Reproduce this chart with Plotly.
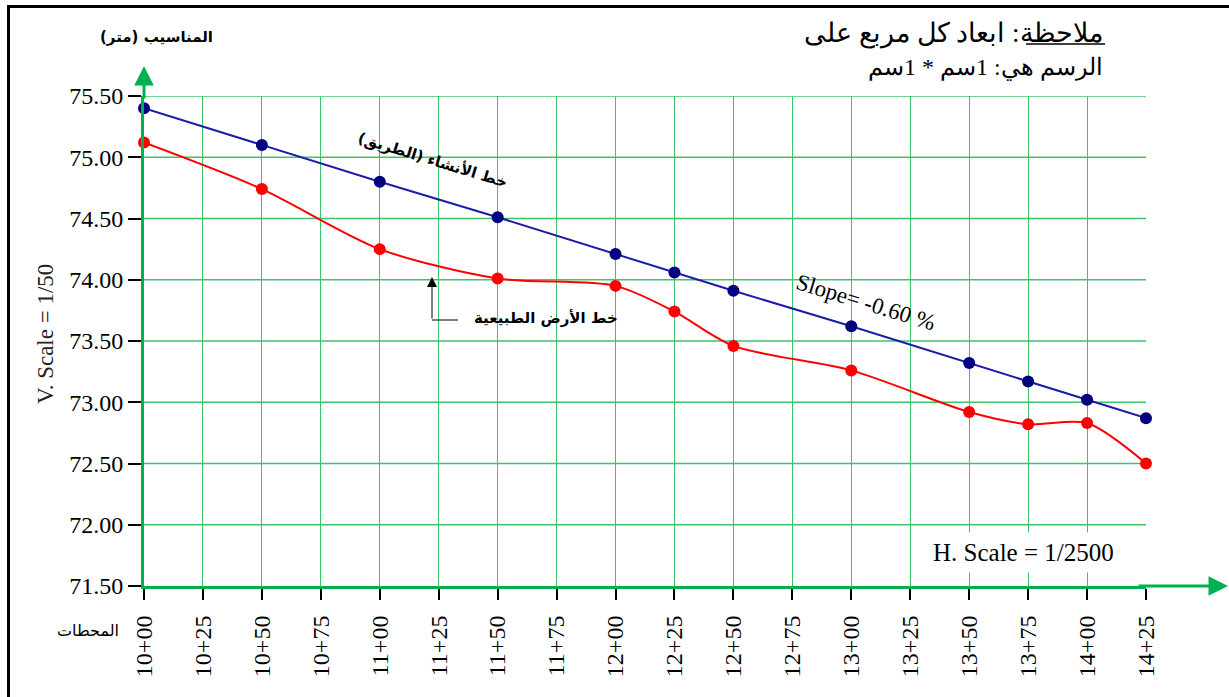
import plotly.graph_objects as go

# ---- data -------------------------------------------------------------
# stations along the road (chainage "hundreds+metres")
point_stations = ["10+00", "10+50", "11+00", "11+50", "12+00", "12+25",
                  "12+50", "13+00", "13+50", "13+75", "14+00", "14+25"]
# design (road) grade elevations, metres
design_levels = [75.40, 75.10, 74.80, 74.51, 74.21, 74.06,
                 73.91, 73.62, 73.32, 73.17, 73.02, 72.87]
# natural ground elevations, metres
ground_levels = [75.12, 74.74, 74.25, 74.01, 73.95, 73.74,
                 73.46, 73.26, 72.92, 72.82, 72.83, 72.50]

tick_stations = ["10+00", "10+25", "10+50", "10+75", "11+00", "11+25",
                 "11+50", "11+75", "12+00", "12+25", "12+50", "12+75",
                 "13+00", "13+25", "13+50", "13+75", "14+00", "14+25"]
level_ticks = [71.50, 72.00, 72.50, 73.00, 73.50, 74.00, 74.50, 75.00, 75.50]


def chainage(label):
    """Distance in metres from the first station, e.g. '11+25' -> 125."""
    h, m = label.split("+")
    return int(h) * 100 + int(m) - 1000


x_pts = [chainage(s) for s in point_stations]
x_ticks = [chainage(s) for s in tick_stations]

# ---- page geometry (pixels) -------------------------------------------
W, H = 1229, 697
L, R, T, B = 144, 1146, 96, 586          # plot area edges


def px(xp):
    return (xp - L) / (R - L)


def py(yp):
    return (B - yp) / (B - T)


SERIF = "Liberation Serif"
ARABIC = "DejaVu Sans"
GRID = "#3cc46c"
AXIS = "#00b050"
RLM = "\u200f"

fig = go.Figure()

fig.add_trace(go.Scatter(
    x=x_pts, y=ground_levels, mode="lines+markers",
    line=dict(color="#ff0000", width=2, shape="spline", smoothing=0.8),
    marker=dict(color="#ff0000", size=12),
    cliponaxis=False, showlegend=False))

fig.add_trace(go.Scatter(
    x=x_pts, y=design_levels, mode="lines+markers",
    line=dict(color="#1c1ca8", width=2),
    marker=dict(color="#000080", size=12),
    cliponaxis=False, showlegend=False))

fig.update_layout(
    width=W, height=H,
    margin=dict(l=L, r=W - R, t=T, b=H - B),
    paper_bgcolor="white", plot_bgcolor="white",
    showlegend=False,
    xaxis=dict(
        range=[x_ticks[0], x_ticks[-1]],
        tickmode="array", tickvals=x_ticks, ticktext=tick_stations,
        tickangle=-90, ticks="outside", ticklen=11, tickwidth=2,
        tickcolor="black", ticklabelstandoff=6,
        tickfont=dict(family=SERIF, size=24, color="black"),
        showgrid=True, gridcolor=GRID, gridwidth=1,
        showline=True, linecolor=AXIS, linewidth=3,
        zeroline=False, fixedrange=True),
    yaxis=dict(
        range=[level_ticks[0], level_ticks[-1]],
        tickmode="array", tickvals=level_ticks,
        ticktext=[f"{v:.2f}" for v in level_ticks],
        ticks="outside", ticklen=13, tickwidth=2, tickcolor="black",
        tickfont=dict(family=SERIF, size=24, color="black"),
        showgrid=False,
        showline=True, linecolor=AXIS, linewidth=3,
        zeroline=False, fixedrange=True),
)

shapes = []
# horizontal grid lines at each elevation tick
for lv in level_ticks[1:]:
    shapes.append(dict(type="line", xref="paper", yref="y",
                       x0=0, x1=1, y0=lv, y1=lv,
                       line=dict(color=GRID, width=1.6), layer="below"))
# outer frame
shapes.append(dict(type="rect", xref="paper", yref="paper",
                   x0=px(8.5), x1=px(1245), y0=py(712), y1=py(6.5),
                   line=dict(color="black", width=3), fillcolor="rgba(0,0,0,0)",
                   layer="above"))
# underline of the note heading
shapes.append(dict(type="line", xref="paper", yref="paper",
                   x0=px(1026), x1=px(1105), y0=py(44), y1=py(44),
                   line=dict(color="black", width=1.5)))
# leader for the ground-line label
shapes.append(dict(type="line", xref="paper", yref="paper",
                   x0=px(432), x1=px(458), y0=py(320), y1=py(320),
                   line=dict(color="black", width=1)))

annotations = []
# axis arrows
annotations.append(dict(xref="paper", yref="paper", x=px(144), y=py(66),
                        ax=0, ay=34, text="", showarrow=True, arrowhead=2,
                        arrowsize=1.3, arrowwidth=3, arrowcolor=AXIS, standoff=0))
annotations.append(dict(xref="paper", yref="paper", x=px(1229), y=py(586),
                        ax=-92, ay=0, text="", showarrow=True, arrowhead=2,
                        arrowsize=1.3, arrowwidth=3, arrowcolor=AXIS, standoff=0))
# leader arrow
annotations.append(dict(xref="paper", yref="paper", x=px(432), y=py(277),
                        ax=0, ay=43, text="", showarrow=True, arrowhead=2,
                        arrowsize=2, arrowwidth=1, arrowcolor="black", standoff=0))

annotations += [
    dict(text="المناسيب (متر)" + RLM, x=px(156), y=py(37),
         font=dict(family=ARABIC, size=15, color="black", weight="bold")),
    dict(text="ملاحظة: ابعاد كل مربع على", x=px(1105), y=py(33), xanchor="right",
         font=dict(family=SERIF, size=27, color="black")),
    dict(text="الرسم هي: 1سم * 1سم", x=px(1105), y=py(68), xanchor="right",
         font=dict(family=SERIF, size=24, color="black")),
    dict(text="V. Scale = 1/50", x=px(45), y=py(334), textangle=-90,
         font=dict(family=SERIF, size=23, color="#222222")),
    dict(text="المحطات", x=px(88), y=py(630),
         font=dict(family=ARABIC, size=16, color="black")),
    dict(text=RLM + "خط الأنشاء (الطريق)" + RLM, x=px(432), y=py(160), textangle=17,
         font=dict(family=ARABIC, size=15, color="black", weight="bold")),
    dict(text="Slope= -0.60 %", x=px(866), y=py(302), textangle=17,
         font=dict(family=SERIF, size=23, color="black")),
    dict(text="خط الأرض الطبيعية", x=px(546), y=py(318),
         font=dict(family=ARABIC, size=15, color="black", weight="bold")),
    dict(text="H. Scale = 1/2500", x=px(1023), y=py(552),
         bgcolor="white", borderpad=6,
         font=dict(family=SERIF, size=25, color="black")),
]
for a in annotations:
    a.setdefault("xref", "paper")
    a.setdefault("yref", "paper")
    a.setdefault("showarrow", False)
    if not a["showarrow"]:
        a.setdefault("xanchor", "center")
        a.setdefault("yanchor", "middle")

fig.update_layout(shapes=shapes, annotations=annotations)

fig.write_html("out.html", config={"displayModeBar": False})
